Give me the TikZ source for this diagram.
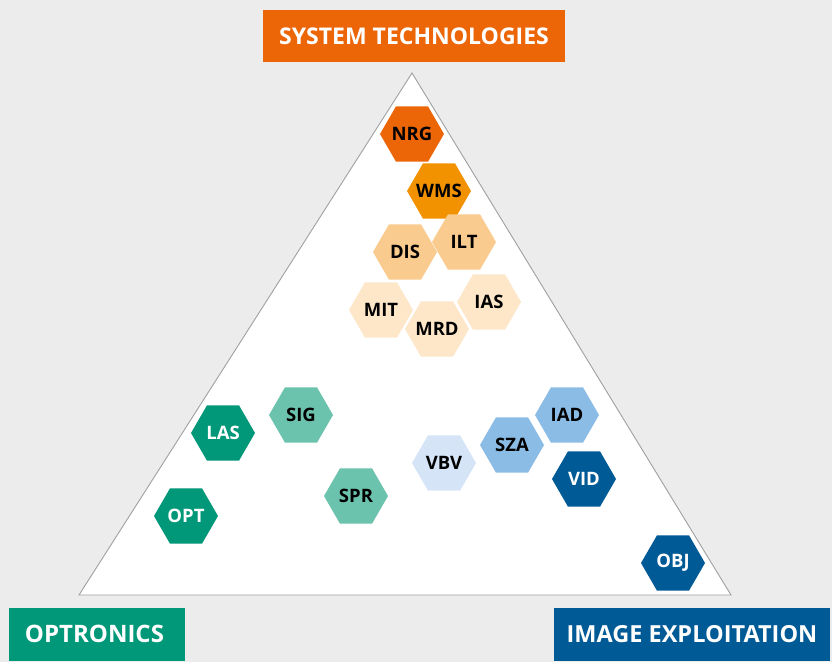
\documentclass[tikz,border=0pt]{standalone}
\usepackage{fontspec}
\setmainfont{Open Sans}
\usetikzlibrary{shapes.geometric}
\definecolor{bg}{HTML}{ECECEC}
\definecolor{tri}{HTML}{A0A0A0}
\definecolor{orD}{HTML}{EC6608}
\definecolor{orM}{HTML}{F39200}
\definecolor{orL}{HTML}{FACB8E}
\definecolor{orX}{HTML}{FDE7C8}
\definecolor{grD}{HTML}{009878}
\definecolor{grL}{HTML}{6CC3AD}
\definecolor{blD}{HTML}{005A96}
\definecolor{blM}{HTML}{8ABCE6}
\definecolor{blL}{HTML}{D5E5F7}
\tikzset{
  hexlbl/.style={inner sep=0pt, font=\bfseries\fontsize{18.5}{18.5}\selectfont, text=black},
  hexshape/.style={regular polygon, regular polygon sides=6, minimum size=64pt, inner sep=0pt, draw=none},
  hexa/.style={hexshape, label={[hexlbl]center:#1}},
  hexw/.style={hexshape, label={[hexlbl, text=white]center:#1}},
  cat/.style={inner sep=0pt, font=\bfseries\fontsize{23}{23}\selectfont, text=white}
}
\begin{document}
\begin{tikzpicture}[x=1pt,y=-1pt]
\path[fill=bg] (0,0) rectangle (832,662);
\useasboundingbox (0,0) rectangle (832,662);
% triangle
\coordinate (apex) at (412,73);
\coordinate (bl) at (79,595);
\coordinate (br) at (731,595);
\draw[tri, fill=white, line width=0.9pt, line join=miter] (apex) -- (bl) -- (br) -- cycle;
% category boxes
\node[cat, fill=orD, minimum width=302pt, minimum height=52pt] (st) at (414,36) {SYSTEM TECHNOLOGIES};
\node[cat, fill=grD, minimum width=176pt, minimum height=53pt, text width=176pt, align=left, font=\bfseries\fontsize{24}{24}\selectfont] (op) at (97,634) {\hspace*{16pt}OPTRONICS};
\node[cat, fill=blD, minimum width=276pt, minimum height=53pt, font=\bfseries\fontsize{23.5}{23.5}\selectfont] (ie) at (692,634) {IMAGE EXPLOITATION};
% hexagons
\node[hexa=NRG, fill=orD] (nrg) at (412,134) {};
\node[hexa=WMS, fill=orM] (wms) at (439,191) {};
\node[hexa=DIS, fill=orL] (dis) at (405,252) {};
\node[hexa=ILT, fill=orL] (ilt) at (464,242) {};
\node[hexa=MIT, fill=orX] (mit) at (381,310) {};
\node[hexa=MRD, fill=orX] (mrd) at (437,329) {};
\node[hexa=IAS, fill=orX] (ias) at (489,302) {};
\node[hexw=LAS, fill=grD] (las) at (223,433) {};
\node[hexa=SIG, fill=grL] (sig) at (301,415) {};
\node[hexw=OPT, fill=grD] (opt) at (186,516) {};
\node[hexa=SPR, fill=grL] (spr) at (356,496) {};
\node[hexa=VBV, fill=blL] (vbv) at (444,463) {};
\node[hexa=SZA, fill=blM] (sza) at (512,445) {};
\node[hexa=IAD, fill=blM] (iad) at (567,415) {};
\node[hexw=VID, fill=blD] (vid) at (584,479) {};
\node[hexw=OBJ, fill=blD] (obj) at (673,563) {};
\end{tikzpicture}
\end{document}
